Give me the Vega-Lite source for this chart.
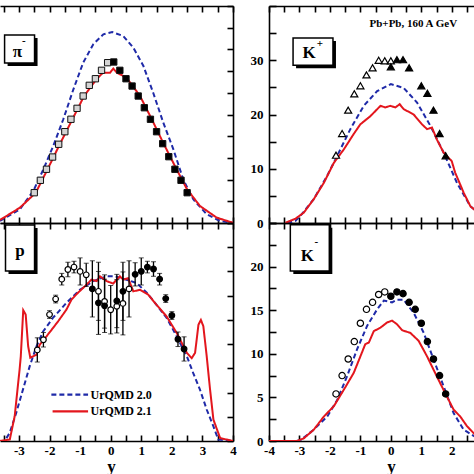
{
  "$schema": "https://vega.github.io/schema/vega-lite/v6.json",
  "padding": 0,
  "background": "white",
  "bounds": "flush",
  "columns": 2,
  "spacing": {"row": 0, "column": 36},
  "config": {
    "view": {"stroke": null},
    "axis": {
      "grid": false,
      "domainColor": "black",
      "domainWidth": 1.6,
      "tickColor": "black",
      "tickWidth": 1.6,
      "tickOpacity": 1,
      "ticks": true,
      "labelFont": "Liberation Serif",
      "labelFontWeight": "bold",
      "labelFontSize": 13,
      "labelColor": "black",
      "labelPadding": 9,
      "labelFlush": false,
      "labelOverlap": false,
      "titleFont": "Liberation Serif",
      "titleFontWeight": "bold",
      "titleFontSize": 17,
      "titleColor": "black"
    },
    "text": {"font": "Liberation Serif", "fontWeight": "bold", "color": "black"}
  },
  "resolve": {"scale": {"fill": "independent"}, "legend": {"color": "independent", "strokeDash": "independent", "fill": "independent"}},
  "datasets": {
    "curves": [
      {"p": "pim", "m": "UrQMD 2.0", "y": -3.62, "v": 2.3},
      {"p": "pim", "m": "UrQMD 2.0", "y": -2.97, "v": 15.8},
      {"p": "pim", "m": "UrQMD 2.0", "y": -2.53, "v": 36.9},
      {"p": "pim", "m": "UrQMD 2.0", "y": -2.2, "v": 61.9},
      {"p": "pim", "m": "UrQMD 2.0", "y": -1.88, "v": 88.7},
      {"p": "pim", "m": "UrQMD 2.0", "y": -1.55, "v": 119.5},
      {"p": "pim", "m": "UrQMD 2.0", "y": -1.22, "v": 154},
      {"p": "pim", "m": "UrQMD 2.0", "y": -0.9, "v": 184.7},
      {"p": "pim", "m": "UrQMD 2.0", "y": -0.57, "v": 205.9},
      {"p": "pim", "m": "UrQMD 2.0", "y": -0.24, "v": 217.4},
      {"p": "pim", "m": "UrQMD 2.0", "y": 0.05, "v": 220},
      {"p": "pim", "m": "UrQMD 2.0", "y": 0.41, "v": 215.4},
      {"p": "pim", "m": "UrQMD 2.0", "y": 0.74, "v": 202},
      {"p": "pim", "m": "UrQMD 2.0", "y": 1.07, "v": 180.9},
      {"p": "pim", "m": "UrQMD 2.0", "y": 1.39, "v": 150.1},
      {"p": "pim", "m": "UrQMD 2.0", "y": 1.72, "v": 115.6},
      {"p": "pim", "m": "UrQMD 2.0", "y": 2.05, "v": 84.9},
      {"p": "pim", "m": "UrQMD 2.0", "y": 2.37, "v": 50.3},
      {"p": "pim", "m": "UrQMD 2.0", "y": 2.7, "v": 27.3},
      {"p": "pim", "m": "UrQMD 2.0", "y": 3.14, "v": 10},
      {"p": "pim", "m": "UrQMD 2.0", "y": 3.58, "v": 2.3},
      {"p": "pim", "m": "UrQMD 2.0", "y": 4.0, "v": 0},
      {"p": "pim", "m": "UrQMD 2.1", "y": -3.62, "v": 3.5},
      {"p": "pim", "m": "UrQMD 2.1", "y": -2.97, "v": 17.6},
      {"p": "pim", "m": "UrQMD 2.1", "y": -2.45, "v": 34.9},
      {"p": "pim", "m": "UrQMD 2.1", "y": -2.06, "v": 62.2},
      {"p": "pim", "m": "UrQMD 2.1", "y": -1.66, "v": 91},
      {"p": "pim", "m": "UrQMD 2.1", "y": -1.28, "v": 117.5},
      {"p": "pim", "m": "UrQMD 2.1", "y": -0.87, "v": 146.3},
      {"p": "pim", "m": "UrQMD 2.1", "y": -0.46, "v": 165.9},
      {"p": "pim", "m": "UrQMD 2.1", "y": -0.25, "v": 173.2},
      {"p": "pim", "m": "UrQMD 2.1", "y": -0.02, "v": 173.2},
      {"p": "pim", "m": "UrQMD 2.1", "y": 0.085, "v": 177.8},
      {"p": "pim", "m": "UrQMD 2.1", "y": 0.2, "v": 173.2},
      {"p": "pim", "m": "UrQMD 2.1", "y": 0.52, "v": 167.4},
      {"p": "pim", "m": "UrQMD 2.1", "y": 0.96, "v": 146.3},
      {"p": "pim", "m": "UrQMD 2.1", "y": 1.34, "v": 119.8},
      {"p": "pim", "m": "UrQMD 2.1", "y": 1.72, "v": 92.2},
      {"p": "pim", "m": "UrQMD 2.1", "y": 2.1, "v": 65.7},
      {"p": "pim", "m": "UrQMD 2.1", "y": 2.49, "v": 39.2},
      {"p": "pim", "m": "UrQMD 2.1", "y": 2.92, "v": 19.6},
      {"p": "pim", "m": "UrQMD 2.1", "y": 3.47, "v": 6.1},
      {"p": "pim", "m": "UrQMD 2.1", "y": 4.0, "v": 0.3},

      {"p": "kp", "m": "UrQMD 2.0", "y": -3.4, "v": 0},
      {"p": "kp", "m": "UrQMD 2.0", "y": -3.13, "v": 0.4},
      {"p": "kp", "m": "UrQMD 2.0", "y": -2.97, "v": 1.3},
      {"p": "kp", "m": "UrQMD 2.0", "y": -2.53, "v": 4.4},
      {"p": "kp", "m": "UrQMD 2.0", "y": -2.09, "v": 8.7},
      {"p": "kp", "m": "UrQMD 2.0", "y": -1.76, "v": 12.4},
      {"p": "kp", "m": "UrQMD 2.0", "y": -1.33, "v": 17.3},
      {"p": "kp", "m": "UrQMD 2.0", "y": -0.89, "v": 21.6},
      {"p": "kp", "m": "UrQMD 2.0", "y": -0.45, "v": 24.3},
      {"p": "kp", "m": "UrQMD 2.0", "y": 0.0, "v": 25.6},
      {"p": "kp", "m": "UrQMD 2.0", "y": 0.42, "v": 24.9},
      {"p": "kp", "m": "UrQMD 2.0", "y": 0.86, "v": 22.2},
      {"p": "kp", "m": "UrQMD 2.0", "y": 1.3, "v": 17.9},
      {"p": "kp", "m": "UrQMD 2.0", "y": 1.73, "v": 13.0},
      {"p": "kp", "m": "UrQMD 2.0", "y": 2.17, "v": 7.4},
      {"p": "kp", "m": "UrQMD 2.0", "y": 2.61, "v": 3.1},
      {"p": "kp", "m": "UrQMD 2.0", "y": 2.8, "v": 2.2},
      {"p": "kp", "m": "UrQMD 2.1", "y": -3.46, "v": 0.05},
      {"p": "kp", "m": "UrQMD 2.1", "y": -3.13, "v": 0.8},
      {"p": "kp", "m": "UrQMD 2.1", "y": -2.86, "v": 1.9},
      {"p": "kp", "m": "UrQMD 2.1", "y": -2.53, "v": 4.4},
      {"p": "kp", "m": "UrQMD 2.1", "y": -2.2, "v": 7.4},
      {"p": "kp", "m": "UrQMD 2.1", "y": -1.87, "v": 11.1},
      {"p": "kp", "m": "UrQMD 2.1", "y": -1.54, "v": 13.6},
      {"p": "kp", "m": "UrQMD 2.1", "y": -1.22, "v": 16.4},
      {"p": "kp", "m": "UrQMD 2.1", "y": -1.0, "v": 18.2},
      {"p": "kp", "m": "UrQMD 2.1", "y": -0.67, "v": 19.7},
      {"p": "kp", "m": "UrQMD 2.1", "y": -0.34, "v": 21.6},
      {"p": "kp", "m": "UrQMD 2.1", "y": -0.18, "v": 21.3},
      {"p": "kp", "m": "UrQMD 2.1", "y": -0.02, "v": 21.6},
      {"p": "kp", "m": "UrQMD 2.1", "y": 0.15, "v": 21.3},
      {"p": "kp", "m": "UrQMD 2.1", "y": 0.29, "v": 21.9},
      {"p": "kp", "m": "UrQMD 2.1", "y": 0.42, "v": 21.0},
      {"p": "kp", "m": "UrQMD 2.1", "y": 0.75, "v": 20.0},
      {"p": "kp", "m": "UrQMD 2.1", "y": 1.02, "v": 18.2},
      {"p": "kp", "m": "UrQMD 2.1", "y": 1.19, "v": 17.3},
      {"p": "kp", "m": "UrQMD 2.1", "y": 1.35, "v": 17.6},
      {"p": "kp", "m": "UrQMD 2.1", "y": 1.51, "v": 15.4},
      {"p": "kp", "m": "UrQMD 2.1", "y": 1.73, "v": 13.0},
      {"p": "kp", "m": "UrQMD 2.1", "y": 2.0, "v": 11.4},
      {"p": "kp", "m": "UrQMD 2.1", "y": 2.11, "v": 9.3},
      {"p": "kp", "m": "UrQMD 2.1", "y": 2.39, "v": 5.6},
      {"p": "kp", "m": "UrQMD 2.1", "y": 2.61, "v": 3.1},
      {"p": "kp", "m": "UrQMD 2.1", "y": 2.8, "v": 2.2},

      {"p": "pr", "m": "UrQMD 2.0", "y": -3.62, "v": 0},
      {"p": "pr", "m": "UrQMD 2.0", "y": -3.47, "v": 0},
      {"p": "pr", "m": "UrQMD 2.0", "y": -3.3, "v": 1.7},
      {"p": "pr", "m": "UrQMD 2.0", "y": -3.09, "v": 5.8},
      {"p": "pr", "m": "UrQMD 2.0", "y": -2.87, "v": 10.6},
      {"p": "pr", "m": "UrQMD 2.0", "y": -2.65, "v": 15.4},
      {"p": "pr", "m": "UrQMD 2.0", "y": -2.43, "v": 19.5},
      {"p": "pr", "m": "UrQMD 2.0", "y": -2.21, "v": 22.6},
      {"p": "pr", "m": "UrQMD 2.0", "y": -1.89, "v": 25.4},
      {"p": "pr", "m": "UrQMD 2.0", "y": -1.45, "v": 28.5},
      {"p": "pr", "m": "UrQMD 2.0", "y": -1.01, "v": 31.2},
      {"p": "pr", "m": "UrQMD 2.0", "y": -0.57, "v": 33.0},
      {"p": "pr", "m": "UrQMD 2.0", "y": -0.13, "v": 34.0},
      {"p": "pr", "m": "UrQMD 2.0", "y": 0.14, "v": 34.0},
      {"p": "pr", "m": "UrQMD 2.0", "y": 0.52, "v": 33.3},
      {"p": "pr", "m": "UrQMD 2.0", "y": 0.85, "v": 32.6},
      {"p": "pr", "m": "UrQMD 2.0", "y": 1.18, "v": 30.6},
      {"p": "pr", "m": "UrQMD 2.0", "y": 1.5, "v": 28.1},
      {"p": "pr", "m": "UrQMD 2.0", "y": 1.83, "v": 25.4},
      {"p": "pr", "m": "UrQMD 2.0", "y": 2.16, "v": 21.6},
      {"p": "pr", "m": "UrQMD 2.0", "y": 2.49, "v": 17.5},
      {"p": "pr", "m": "UrQMD 2.0", "y": 2.7, "v": 14.0},
      {"p": "pr", "m": "UrQMD 2.0", "y": 2.92, "v": 10.6},
      {"p": "pr", "m": "UrQMD 2.0", "y": 3.14, "v": 6.5},
      {"p": "pr", "m": "UrQMD 2.0", "y": 3.36, "v": 3.0},
      {"p": "pr", "m": "UrQMD 2.0", "y": 3.52, "v": 0.3},
      {"p": "pr", "m": "UrQMD 2.0", "y": 4.0, "v": 0},
      {"p": "pr", "m": "UrQMD 2.1", "y": -3.63, "v": 0},
      {"p": "pr", "m": "UrQMD 2.1", "y": -3.3, "v": 0.3},
      {"p": "pr", "m": "UrQMD 2.1", "y": -3.14, "v": 5.1},
      {"p": "pr", "m": "UrQMD 2.1", "y": -2.98, "v": 14.7},
      {"p": "pr", "m": "UrQMD 2.1", "y": -2.94, "v": 17.5},
      {"p": "pr", "m": "UrQMD 2.1", "y": -2.86, "v": 27.0},
      {"p": "pr", "m": "UrQMD 2.1", "y": -2.78, "v": 26.1},
      {"p": "pr", "m": "UrQMD 2.1", "y": -2.7, "v": 19.6},
      {"p": "pr", "m": "UrQMD 2.1", "y": -2.63, "v": 17.2},
      {"p": "pr", "m": "UrQMD 2.1", "y": -2.43, "v": 17.8},
      {"p": "pr", "m": "UrQMD 2.1", "y": -2.32, "v": 19.9},
      {"p": "pr", "m": "UrQMD 2.1", "y": -2.1, "v": 21.6},
      {"p": "pr", "m": "UrQMD 2.1", "y": -1.89, "v": 23.3},
      {"p": "pr", "m": "UrQMD 2.1", "y": -1.72, "v": 24.7},
      {"p": "pr", "m": "UrQMD 2.1", "y": -1.45, "v": 27.1},
      {"p": "pr", "m": "UrQMD 2.1", "y": -1.28, "v": 29.2},
      {"p": "pr", "m": "UrQMD 2.1", "y": -1.07, "v": 30.6},
      {"p": "pr", "m": "UrQMD 2.1", "y": -0.85, "v": 31.9},
      {"p": "pr", "m": "UrQMD 2.1", "y": -0.63, "v": 33.3},
      {"p": "pr", "m": "UrQMD 2.1", "y": -0.46, "v": 33.0},
      {"p": "pr", "m": "UrQMD 2.1", "y": -0.35, "v": 34.0},
      {"p": "pr", "m": "UrQMD 2.1", "y": -0.13, "v": 33.0},
      {"p": "pr", "m": "UrQMD 2.1", "y": 0.08, "v": 32.5},
      {"p": "pr", "m": "UrQMD 2.1", "y": 0.3, "v": 34.0},
      {"p": "pr", "m": "UrQMD 2.1", "y": 0.41, "v": 33.3},
      {"p": "pr", "m": "UrQMD 2.1", "y": 0.57, "v": 33.6},
      {"p": "pr", "m": "UrQMD 2.1", "y": 0.74, "v": 30.9},
      {"p": "pr", "m": "UrQMD 2.1", "y": 0.96, "v": 31.2},
      {"p": "pr", "m": "UrQMD 2.1", "y": 1.23, "v": 30.2},
      {"p": "pr", "m": "UrQMD 2.1", "y": 1.5, "v": 28.1},
      {"p": "pr", "m": "UrQMD 2.1", "y": 1.83, "v": 25.7},
      {"p": "pr", "m": "UrQMD 2.1", "y": 2.16, "v": 22.3},
      {"p": "pr", "m": "UrQMD 2.1", "y": 2.49, "v": 18.2},
      {"p": "pr", "m": "UrQMD 2.1", "y": 2.65, "v": 17.1},
      {"p": "pr", "m": "UrQMD 2.1", "y": 2.76, "v": 18.2},
      {"p": "pr", "m": "UrQMD 2.1", "y": 2.87, "v": 24.0},
      {"p": "pr", "m": "UrQMD 2.1", "y": 2.95, "v": 25.0},
      {"p": "pr", "m": "UrQMD 2.1", "y": 3.03, "v": 23.7},
      {"p": "pr", "m": "UrQMD 2.1", "y": 3.14, "v": 17.5},
      {"p": "pr", "m": "UrQMD 2.1", "y": 3.25, "v": 10.6},
      {"p": "pr", "m": "UrQMD 2.1", "y": 3.36, "v": 4.4},
      {"p": "pr", "m": "UrQMD 2.1", "y": 3.58, "v": 0.6},
      {"p": "pr", "m": "UrQMD 2.1", "y": 4.0, "v": 0},

      {"p": "km", "m": "UrQMD 2.0", "y": -3.1, "v": 0},
      {"p": "km", "m": "UrQMD 2.0", "y": -2.96, "v": 0.1},
      {"p": "km", "m": "UrQMD 2.0", "y": -2.53, "v": 1.3},
      {"p": "km", "m": "UrQMD 2.0", "y": -2.09, "v": 2.8},
      {"p": "km", "m": "UrQMD 2.0", "y": -1.76, "v": 4.7},
      {"p": "km", "m": "UrQMD 2.0", "y": -1.44, "v": 7.4},
      {"p": "km", "m": "UrQMD 2.0", "y": -1.11, "v": 10.5},
      {"p": "km", "m": "UrQMD 2.0", "y": -0.78, "v": 13.2},
      {"p": "km", "m": "UrQMD 2.0", "y": -0.45, "v": 15.1},
      {"p": "km", "m": "UrQMD 2.0", "y": -0.23, "v": 16.1},
      {"p": "km", "m": "UrQMD 2.0", "y": 0.04, "v": 15.9},
      {"p": "km", "m": "UrQMD 2.0", "y": 0.2, "v": 16.2},
      {"p": "km", "m": "UrQMD 2.0", "y": 0.42, "v": 16.2},
      {"p": "km", "m": "UrQMD 2.0", "y": 0.75, "v": 14.7},
      {"p": "km", "m": "UrQMD 2.0", "y": 1.08, "v": 12.4},
      {"p": "km", "m": "UrQMD 2.0", "y": 1.41, "v": 9.3},
      {"p": "km", "m": "UrQMD 2.0", "y": 1.73, "v": 6.3},
      {"p": "km", "m": "UrQMD 2.0", "y": 2.06, "v": 3.2},
      {"p": "km", "m": "UrQMD 2.0", "y": 2.39, "v": 1.3},
      {"p": "km", "m": "UrQMD 2.0", "y": 2.8, "v": 0.4},
      {"p": "km", "m": "UrQMD 2.1", "y": -4.0, "v": 0},
      {"p": "km", "m": "UrQMD 2.1", "y": -3.08, "v": 0},
      {"p": "km", "m": "UrQMD 2.1", "y": -2.86, "v": 0.3},
      {"p": "km", "m": "UrQMD 2.1", "y": -2.53, "v": 1.3},
      {"p": "km", "m": "UrQMD 2.1", "y": -2.2, "v": 2.8},
      {"p": "km", "m": "UrQMD 2.1", "y": -1.87, "v": 4.0},
      {"p": "km", "m": "UrQMD 2.1", "y": -1.54, "v": 5.9},
      {"p": "km", "m": "UrQMD 2.1", "y": -1.22, "v": 7.8},
      {"p": "km", "m": "UrQMD 2.1", "y": -1.0, "v": 9.7},
      {"p": "km", "m": "UrQMD 2.1", "y": -0.84, "v": 11.1},
      {"p": "km", "m": "UrQMD 2.1", "y": -0.72, "v": 11.3},
      {"p": "km", "m": "UrQMD 2.1", "y": -0.56, "v": 12.6},
      {"p": "km", "m": "UrQMD 2.1", "y": -0.34, "v": 13.0},
      {"p": "km", "m": "UrQMD 2.1", "y": -0.12, "v": 13.6},
      {"p": "km", "m": "UrQMD 2.1", "y": 0.04, "v": 13.8},
      {"p": "km", "m": "UrQMD 2.1", "y": 0.2, "v": 13.4},
      {"p": "km", "m": "UrQMD 2.1", "y": 0.37, "v": 12.7},
      {"p": "km", "m": "UrQMD 2.1", "y": 0.64, "v": 12.4},
      {"p": "km", "m": "UrQMD 2.1", "y": 0.91, "v": 11.5},
      {"p": "km", "m": "UrQMD 2.1", "y": 1.19, "v": 9.7},
      {"p": "km", "m": "UrQMD 2.1", "y": 1.51, "v": 7.4},
      {"p": "km", "m": "UrQMD 2.1", "y": 1.84, "v": 5.1},
      {"p": "km", "m": "UrQMD 2.1", "y": 2.06, "v": 3.6},
      {"p": "km", "m": "UrQMD 2.1", "y": 2.28, "v": 2.8},
      {"p": "km", "m": "UrQMD 2.1", "y": 2.5, "v": 1.7},
      {"p": "km", "m": "UrQMD 2.1", "y": 2.8, "v": 0.6}
    ],
    "pts": [
      {"p": "pim", "s": "open", "y": -2.5, "v": 34.9, "e": 0},
      {"p": "pim", "s": "open", "y": -2.3, "v": 49.2, "e": 0},
      {"p": "pim", "s": "open", "y": -2.1, "v": 61.9, "e": 0},
      {"p": "pim", "s": "open", "y": -1.9, "v": 76.0, "e": 0},
      {"p": "pim", "s": "open", "y": -1.7, "v": 90.7, "e": 0},
      {"p": "pim", "s": "open", "y": -1.5, "v": 105.2, "e": 0},
      {"p": "pim", "s": "open", "y": -1.3, "v": 119.5, "e": 0},
      {"p": "pim", "s": "open", "y": -1.1, "v": 132.1, "e": 0},
      {"p": "pim", "s": "open", "y": -0.9, "v": 146.3, "e": 0},
      {"p": "pim", "s": "open", "y": -0.7, "v": 158.6, "e": 0},
      {"p": "pim", "s": "open", "y": -0.5, "v": 166.2, "e": 0},
      {"p": "pim", "s": "open", "y": -0.3, "v": 175.9, "e": 0},
      {"p": "pim", "s": "open", "y": -0.1, "v": 184.7, "e": 0},
      {"p": "pim", "s": "closed", "y": 0.1, "v": 185.5, "e": 0},
      {"p": "pim", "s": "closed", "y": 0.3, "v": 175.9, "e": 0},
      {"p": "pim", "s": "closed", "y": 0.5, "v": 166.2, "e": 0},
      {"p": "pim", "s": "closed", "y": 0.7, "v": 157.8, "e": 0},
      {"p": "pim", "s": "closed", "y": 0.9, "v": 146.3, "e": 0},
      {"p": "pim", "s": "closed", "y": 1.1, "v": 132.8, "e": 0},
      {"p": "pim", "s": "closed", "y": 1.3, "v": 119.5, "e": 0},
      {"p": "pim", "s": "closed", "y": 1.5, "v": 105.2, "e": 0},
      {"p": "pim", "s": "closed", "y": 1.7, "v": 91.4, "e": 0},
      {"p": "pim", "s": "closed", "y": 1.9, "v": 76.4, "e": 0},
      {"p": "pim", "s": "closed", "y": 2.1, "v": 61.9, "e": 0},
      {"p": "pim", "s": "closed", "y": 2.3, "v": 49.2, "e": 0},
      {"p": "pim", "s": "closed", "y": 2.5, "v": 34.9, "e": 0},

      {"p": "kp", "s": "open", "y": -1.8, "v": 12.5, "e": 0},
      {"p": "kp", "s": "open", "y": -1.6, "v": 16.5, "e": 0},
      {"p": "kp", "s": "open", "y": -1.4, "v": 20.8, "e": 0},
      {"p": "kp", "s": "open", "y": -1.2, "v": 23.8, "e": 0},
      {"p": "kp", "s": "open", "y": -1.0, "v": 25.3, "e": 0},
      {"p": "kp", "s": "open", "y": -0.8, "v": 27.3, "e": 0},
      {"p": "kp", "s": "open", "y": -0.6, "v": 28.6, "e": 0},
      {"p": "kp", "s": "open", "y": -0.4, "v": 30.0, "e": 0},
      {"p": "kp", "s": "open", "y": -0.2, "v": 29.9, "e": 0},
      {"p": "kp", "s": "open", "y": 0.0, "v": 29.9, "e": 0},
      {"p": "kp", "s": "closed", "y": 0.0, "v": 28.8, "e": 0},
      {"p": "kp", "s": "closed", "y": 0.2, "v": 30.1, "e": 0},
      {"p": "kp", "s": "closed", "y": 0.4, "v": 30.1, "e": 0},
      {"p": "kp", "s": "closed", "y": 0.6, "v": 28.6, "e": 0},
      {"p": "kp", "s": "closed", "y": 1.0, "v": 25.3, "e": 0},
      {"p": "kp", "s": "closed", "y": 1.2, "v": 23.9, "e": 0},
      {"p": "kp", "s": "closed", "y": 1.4, "v": 20.8, "e": 0},
      {"p": "kp", "s": "closed", "y": 1.6, "v": 16.5, "e": 0},
      {"p": "kp", "s": "closed", "y": 1.8, "v": 12.4, "e": 0},

      {"p": "pr", "s": "open", "y": -2.4, "v": 18.8, "e": 2.5},
      {"p": "pr", "s": "open", "y": -2.2, "v": 20.9, "e": 1.5},
      {"p": "pr", "s": "open", "y": -2.0, "v": 26.1, "e": 0.8},
      {"p": "pr", "s": "open", "y": -1.8, "v": 29.3, "e": 0.8},
      {"p": "pr", "s": "open", "y": -1.6, "v": 33.4, "e": 1.2},
      {"p": "pr", "s": "open", "y": -1.4, "v": 35.4, "e": 1.5},
      {"p": "pr", "s": "open", "y": -1.2, "v": 35.9, "e": 1.2},
      {"p": "pr", "s": "open", "y": -1.0, "v": 35.0, "e": 2.8},
      {"p": "pr", "s": "open", "y": -0.8, "v": 34.3, "e": 2.4},
      {"p": "pr", "s": "open", "y": -0.4, "v": 30.9, "e": 6.0},
      {"p": "pr", "s": "open", "y": -0.2, "v": 28.8, "e": 5.5},
      {"p": "pr", "s": "open", "y": 0.0, "v": 27.1, "e": 5.0},
      {"p": "pr", "s": "open", "y": 0.2, "v": 27.8, "e": 5.5},
      {"p": "pr", "s": "open", "y": 0.4, "v": 28.4, "e": 6.5},
      {"p": "pr", "s": "open", "y": 0.6, "v": 31.4, "e": 5.8},
      {"p": "pr", "s": "closed", "y": -0.6, "v": 31.4, "e": 5.8},
      {"p": "pr", "s": "closed", "y": -0.4, "v": 28.5, "e": 6.5},
      {"p": "pr", "s": "closed", "y": -0.2, "v": 27.9, "e": 5.5},
      {"p": "pr", "s": "closed", "y": 0.2, "v": 28.9, "e": 5.5},
      {"p": "pr", "s": "closed", "y": 0.4, "v": 30.9, "e": 6.0},
      {"p": "pr", "s": "closed", "y": 0.8, "v": 34.4, "e": 2.4},
      {"p": "pr", "s": "closed", "y": 1.0, "v": 35.0, "e": 2.8},
      {"p": "pr", "s": "closed", "y": 1.2, "v": 35.9, "e": 1.2},
      {"p": "pr", "s": "closed", "y": 1.4, "v": 35.5, "e": 1.5},
      {"p": "pr", "s": "closed", "y": 1.6, "v": 33.4, "e": 1.2},
      {"p": "pr", "s": "closed", "y": 1.8, "v": 29.4, "e": 0.8},
      {"p": "pr", "s": "closed", "y": 2.0, "v": 25.9, "e": 0.8},
      {"p": "pr", "s": "closed", "y": 2.2, "v": 21.0, "e": 1.5},
      {"p": "pr", "s": "closed", "y": 2.4, "v": 19.0, "e": 2.5},

      {"p": "km", "s": "open", "y": -1.8, "v": 5.4, "e": 0},
      {"p": "km", "s": "open", "y": -1.6, "v": 7.5, "e": 0},
      {"p": "km", "s": "open", "y": -1.4, "v": 9.4, "e": 0},
      {"p": "km", "s": "open", "y": -1.2, "v": 11.4, "e": 0},
      {"p": "km", "s": "open", "y": -1.0, "v": 13.5, "e": 0},
      {"p": "km", "s": "open", "y": -0.8, "v": 15.1, "e": 0},
      {"p": "km", "s": "open", "y": -0.6, "v": 15.9, "e": 0},
      {"p": "km", "s": "open", "y": -0.4, "v": 16.8, "e": 0},
      {"p": "km", "s": "open", "y": -0.2, "v": 17.1, "e": 0},
      {"p": "km", "s": "closed", "y": 0.0, "v": 16.6, "e": 0},
      {"p": "km", "s": "closed", "y": 0.2, "v": 17.1, "e": 0},
      {"p": "km", "s": "closed", "y": 0.4, "v": 16.9, "e": 0},
      {"p": "km", "s": "closed", "y": 0.6, "v": 15.9, "e": 0},
      {"p": "km", "s": "closed", "y": 0.8, "v": 15.1, "e": 0},
      {"p": "km", "s": "closed", "y": 1.0, "v": 13.5, "e": 0},
      {"p": "km", "s": "closed", "y": 1.2, "v": 11.4, "e": 0},
      {"p": "km", "s": "closed", "y": 1.4, "v": 9.4, "e": 0},
      {"p": "km", "s": "closed", "y": 1.6, "v": 7.5, "e": 0},
      {"p": "km", "s": "closed", "y": 1.8, "v": 5.4, "e": 0}
    ]
  },
  "concat": [
    {
      "width": 233,
      "height": 217,
      "resolve": {"axis": {"x": "independent", "y": "independent"}},
      "layer": [
        {
          "data": {"name": "curves"},
          "transform": [{"filter": "datum.p === 'pim'"}],
          "mark": {"type": "line", "clip": true, "strokeWidth": 2},
          "encoding": {
            "x": {"field": "y", "type": "quantitative", "scale": {"domain": [-3.62, 4], "nice": false, "zero": false},
              "axis": {"orient": "bottom", "values": [-3.5,-3,-2.5,-2,-1.5,-1,-0.5,0,0.5,1,1.5,2,2.5,3,3.5,4], "labels": false, "title": null, "tickSize": -6}},
            "y": {"field": "v", "type": "quantitative", "scale": {"domain": [0, 250], "nice": false},
              "axis": {"orient": "right", "values": [0,25,50,75,100,125,150,175,200,225,250], "labels": false, "title": null, "tickSize": -6}},
            "color": {"field": "m", "type": "nominal", "scale": {"domain": ["UrQMD 2.0", "UrQMD 2.1"], "range": ["#1f2aa8", "#e3161d"]}, "legend": null},
            "strokeDash": {"field": "m", "type": "nominal", "scale": {"domain": ["UrQMD 2.0", "UrQMD 2.1"], "range": [[5, 3], [1, 0]]}, "legend": null}
          }
        },
        {
          "data": {"name": "pts"},
          "transform": [{"filter": "datum.p === 'pim'"}],
          "mark": {"type": "point", "shape": "square", "size": 40, "filled": true, "stroke": "#111", "strokeWidth": 1, "opacity": 1},
          "encoding": {
            "x": {"field": "y", "type": "quantitative",
              "axis": {"orient": "top", "values": [-3.5,-3,-2.5,-2,-1.5,-1,-0.5,0,0.5,1,1.5,2,2.5,3,3.5,4], "labels": false, "title": null, "tickSize": -6}},
            "y": {"field": "v", "type": "quantitative", "axis": null},
            "fill": {"field": "s", "type": "nominal", "scale": {"domain": ["open", "closed"], "range": ["#d4d4d4", "#000000"]}, "legend": null}
          }
        },
        {
          "data": {"values": [{}]},
          "mark": {"type": "rect", "fill": "black", "xOffset": 3, "x2Offset": 3, "yOffset": 3, "y2Offset": 3},
          "encoding": {
            "x": {"datum": -3.47, "type": "quantitative", "axis": null}, "x2": {"datum": -2.49},
            "y": {"datum": 216.6, "type": "quantitative", "axis": null}, "y2": {"datum": 184.3}
          }
        },
        {
          "data": {"values": [{}]},
          "mark": {"type": "rect", "fill": "white", "stroke": "black", "strokeWidth": 1.5},
          "encoding": {
            "x": {"datum": -3.47, "type": "quantitative", "axis": null}, "x2": {"datum": -2.49},
            "y": {"datum": 216.6, "type": "quantitative", "axis": null}, "y2": {"datum": 184.3}
          }
        },
        {
          "data": {"values": [{}]},
          "mark": {"type": "text", "text": "π", "fontSize": 17, "align": "center", "baseline": "middle"},
          "encoding": {
            "x": {"datum": -3.05, "type": "quantitative", "axis": null},
            "y": {"datum": 197, "type": "quantitative", "axis": null}
          }
        },
        {
          "data": {"values": [{}]},
          "mark": {"type": "text", "text": "-", "fontSize": 11, "align": "center", "baseline": "middle"},
          "encoding": {
            "x": {"datum": -2.84, "type": "quantitative", "axis": null},
            "y": {"datum": 210, "type": "quantitative", "axis": null}
          }
        }
      ]
    },
    {
      "width": 205,
      "height": 217,
      "resolve": {"axis": {"x": "independent", "y": "independent"}},
      "layer": [
        {
          "data": {"name": "curves"},
          "transform": [{"filter": "datum.p === 'kp'"}],
          "mark": {"type": "line", "clip": true, "strokeWidth": 2},
          "encoding": {
            "x": {"field": "y", "type": "quantitative", "scale": {"domain": [-4, 2.73], "nice": false, "zero": false},
              "axis": {"orient": "bottom", "values": [-4,-3.5,-3,-2.5,-2,-1.5,-1,-0.5,0,0.5,1,1.5,2,2.5], "labels": false, "title": null, "tickSize": -6}},
            "y": {"field": "v", "type": "quantitative", "scale": {"domain": [0, 40], "nice": false},
              "axis": {"orient": "left", "values": [0,5,10,15,20,25,30,35,40], "title": null, "tickSize": -7, "labelPadding": 13,
                "labelExpr": "datum.value % 10 === 0 && datum.value < 40 ? '' + datum.value : ''"}},
            "color": {"field": "m", "type": "nominal", "scale": {"domain": ["UrQMD 2.0", "UrQMD 2.1"], "range": ["#1f2aa8", "#e3161d"]}, "legend": null},
            "strokeDash": {"field": "m", "type": "nominal", "scale": {"domain": ["UrQMD 2.0", "UrQMD 2.1"], "range": [[5, 3], [1, 0]]}, "legend": null}
          }
        },
        {
          "data": {"name": "pts"},
          "transform": [{"filter": "datum.p === 'kp'"}],
          "mark": {"type": "point", "shape": "triangle-up", "size": 50, "filled": true, "stroke": "black", "strokeWidth": 1.2, "opacity": 1},
          "encoding": {
            "x": {"field": "y", "type": "quantitative",
              "axis": {"orient": "top", "values": [-4,-3.5,-3,-2.5,-2,-1.5,-1,-0.5,0,0.5,1,1.5,2,2.5], "labels": false, "title": null, "tickSize": -6}},
            "y": {"field": "v", "type": "quantitative", "axis": null},
            "fill": {"field": "s", "type": "nominal", "scale": {"domain": ["open", "closed"], "range": ["#ffffff", "#000000"]}, "legend": null}
          }
        },
        {
          "data": {"values": [{}]},
          "mark": {"type": "text", "text": "Pb+Pb, 160 A GeV", "fontSize": 11, "align": "left", "baseline": "middle", "clip": true},
          "encoding": {
            "x": {"datum": -0.7, "type": "quantitative", "axis": null},
            "y": {"datum": 36.7, "type": "quantitative", "axis": null}
          }
        },
        {
          "data": {"values": [{}]},
          "mark": {"type": "rect", "fill": "black", "xOffset": 3, "x2Offset": 3, "yOffset": 3, "y2Offset": 3},
          "encoding": {
            "x": {"datum": -3.21, "type": "quantitative", "axis": null}, "x2": {"datum": -1.9},
            "y": {"datum": 34.1, "type": "quantitative", "axis": null}, "y2": {"datum": 29.1}
          }
        },
        {
          "data": {"values": [{}]},
          "mark": {"type": "rect", "fill": "white", "stroke": "black", "strokeWidth": 1.5},
          "encoding": {
            "x": {"datum": -3.21, "type": "quantitative", "axis": null}, "x2": {"datum": -1.9},
            "y": {"datum": 34.1, "type": "quantitative", "axis": null}, "y2": {"datum": 29.1}
          }
        },
        {
          "data": {"values": [{}]},
          "mark": {"type": "text", "text": "K", "fontSize": 17, "align": "center", "baseline": "middle"},
          "encoding": {
            "x": {"datum": -2.68, "type": "quantitative", "axis": null},
            "y": {"datum": 31.3, "type": "quantitative", "axis": null}
          }
        },
        {
          "data": {"values": [{}]},
          "mark": {"type": "text", "text": "+", "fontSize": 11, "align": "center", "baseline": "middle"},
          "encoding": {
            "x": {"datum": -2.33, "type": "quantitative", "axis": null},
            "y": {"datum": 33.0, "type": "quantitative", "axis": null}
          }
        }
      ]
    },
    {
      "width": 233,
      "height": 218,
      "resolve": {"axis": {"x": "independent", "y": "independent"}},
      "layer": [
        {
          "data": {"name": "curves"},
          "transform": [{"filter": "datum.p === 'pr'"}],
          "mark": {"type": "line", "clip": true, "strokeWidth": 2},
          "encoding": {
            "x": {"field": "y", "type": "quantitative", "scale": {"domain": [-3.62, 4], "nice": false, "zero": false},
              "axis": {"orient": "bottom", "values": [-3.5,-3,-2.5,-2,-1.5,-1,-0.5,0,0.5,1,1.5,2,2.5,3,3.5,4], "title": "y", "titleX": 111, "titlePadding": 1, "tickSize": -6, "labelPadding": 9,
                "labelExpr": "abs(datum.value % 1) < 0.01 ? '' + datum.value : ''"}},
            "y": {"field": "v", "type": "quantitative", "scale": {"domain": [0, 45], "nice": false},
              "axis": {"orient": "right", "values": [0,5,10,15,20,25,30,35,40,45], "labels": false, "title": null, "tickSize": -6}},
            "color": {"field": "m", "type": "nominal", "scale": {"domain": ["UrQMD 2.0", "UrQMD 2.1"], "range": ["#1f2aa8", "#e3161d"]}, "legend": null},
            "strokeDash": {"field": "m", "type": "nominal", "scale": {"domain": ["UrQMD 2.0", "UrQMD 2.1"], "range": [[5, 3], [1, 0]]}, "legend": null}
          }
        },
        {
          "data": {"name": "pts"},
          "transform": [{"filter": "datum.p === 'pr'"}],
          "mark": {"type": "errorbar", "ticks": {"size": 5, "color": "black"}, "rule": {"color": "black", "strokeWidth": 1.3}},
          "encoding": {
            "x": {"field": "y", "type": "quantitative",
              "axis": {"orient": "top", "values": [-3.5,-3,-2.5,-2,-1.5,-1,-0.5,0,0.5,1,1.5,2,2.5,3,3.5,4], "labels": false, "title": null, "tickSize": -6}},
            "y": {"field": "v", "type": "quantitative", "axis": null},
            "yError": {"field": "e"}
          }
        },
        {
          "data": {"name": "pts"},
          "transform": [{"filter": "datum.p === 'pr'"}],
          "mark": {"type": "point", "shape": "circle", "size": 32, "filled": true, "stroke": "black", "strokeWidth": 1.2, "opacity": 1},
          "encoding": {
            "x": {"field": "y", "type": "quantitative", "axis": null},
            "y": {"field": "v", "type": "quantitative", "axis": null},
            "fill": {"field": "s", "type": "nominal", "scale": {"domain": ["open", "closed"], "range": ["#ffffff", "#000000"]}, "legend": null}
          }
        },
        {
          "data": {"values": [{}]},
          "mark": {"type": "rule", "stroke": "#1f2aa8", "strokeWidth": 2.2, "strokeDash": [5, 3]},
          "encoding": {
            "x": {"datum": -1.94, "type": "quantitative", "axis": null}, "x2": {"datum": -0.74},
            "y": {"datum": 9.56, "type": "quantitative", "axis": null}
          }
        },
        {
          "data": {"values": [{}]},
          "mark": {"type": "rule", "stroke": "#e3161d", "strokeWidth": 2.2},
          "encoding": {
            "x": {"datum": -1.9, "type": "quantitative", "axis": null}, "x2": {"datum": -0.74},
            "y": {"datum": 6.13, "type": "quantitative", "axis": null}
          }
        },
        {
          "data": {"values": [{}]},
          "mark": {"type": "text", "text": "UrQMD 2.0", "fontSize": 12, "align": "left", "baseline": "middle"},
          "encoding": {
            "x": {"datum": -0.66, "type": "quantitative", "axis": null},
            "y": {"datum": 9.56, "type": "quantitative", "axis": null}
          }
        },
        {
          "data": {"values": [{}]},
          "mark": {"type": "text", "text": "UrQMD 2.1", "fontSize": 12, "align": "left", "baseline": "middle"},
          "encoding": {
            "x": {"datum": -0.66, "type": "quantitative", "axis": null},
            "y": {"datum": 6.13, "type": "quantitative", "axis": null}
          }
        },
        {
          "data": {"values": [{}]},
          "mark": {"type": "rect", "fill": "black", "xOffset": 3, "x2Offset": 3, "yOffset": 3, "y2Offset": 3},
          "encoding": {
            "x": {"datum": -3.44, "type": "quantitative", "axis": null}, "x2": {"datum": -2.49},
            "y": {"datum": 44.6, "type": "quantitative", "axis": null}, "y2": {"datum": 35.1}
          }
        },
        {
          "data": {"values": [{}]},
          "mark": {"type": "rect", "fill": "white", "stroke": "black", "strokeWidth": 1.5},
          "encoding": {
            "x": {"datum": -3.44, "type": "quantitative", "axis": null}, "x2": {"datum": -2.49},
            "y": {"datum": 44.6, "type": "quantitative", "axis": null}, "y2": {"datum": 35.1}
          }
        },
        {
          "data": {"values": [{}]},
          "mark": {"type": "text", "text": "p", "fontSize": 17, "align": "center", "baseline": "middle"},
          "encoding": {
            "x": {"datum": -2.97, "type": "quantitative", "axis": null},
            "y": {"datum": 39.3, "type": "quantitative", "axis": null}
          }
        }
      ]
    },
    {
      "width": 205,
      "height": 218,
      "resolve": {"axis": {"x": "independent", "y": "independent"}},
      "layer": [
        {
          "data": {"name": "curves"},
          "transform": [{"filter": "datum.p === 'km'"}],
          "mark": {"type": "line", "clip": true, "strokeWidth": 2},
          "encoding": {
            "x": {"field": "y", "type": "quantitative", "scale": {"domain": [-4, 2.73], "nice": false, "zero": false},
              "axis": {"orient": "bottom", "values": [-4,-3.5,-3,-2.5,-2,-1.5,-1,-0.5,0,0.5,1,1.5,2,2.5], "title": "y", "titleX": 122, "titlePadding": 1, "tickSize": -6, "labelPadding": 9,
                "labelExpr": "abs(datum.value % 1) < 0.01 ? '' + datum.value : ''"}},
            "y": {"field": "v", "type": "quantitative", "scale": {"domain": [0, 25], "nice": false},
              "axis": {"orient": "left", "values": [0,2.5,5,7.5,10,12.5,15,17.5,20,22.5,25], "title": null, "tickSize": -7, "labelPadding": 13,
                "labelExpr": "datum.value % 5 === 0 && datum.value < 25 ? '' + datum.value : ''"}},
            "color": {"field": "m", "type": "nominal", "scale": {"domain": ["UrQMD 2.0", "UrQMD 2.1"], "range": ["#1f2aa8", "#e3161d"]}, "legend": null},
            "strokeDash": {"field": "m", "type": "nominal", "scale": {"domain": ["UrQMD 2.0", "UrQMD 2.1"], "range": [[5, 3], [1, 0]]}, "legend": null}
          }
        },
        {
          "data": {"name": "pts"},
          "transform": [{"filter": "datum.p === 'km'"}],
          "mark": {"type": "point", "shape": "circle", "size": 40, "filled": true, "stroke": "black", "strokeWidth": 1.2, "opacity": 1},
          "encoding": {
            "x": {"field": "y", "type": "quantitative",
              "axis": {"orient": "top", "values": [-4,-3.5,-3,-2.5,-2,-1.5,-1,-0.5,0,0.5,1,1.5,2,2.5], "labels": false, "title": null, "tickSize": -6}},
            "y": {"field": "v", "type": "quantitative", "axis": null},
            "fill": {"field": "s", "type": "nominal", "scale": {"domain": ["open", "closed"], "range": ["#ffffff", "#000000"]}, "legend": null}
          }
        },
        {
          "data": {"values": [{}]},
          "mark": {"type": "rect", "fill": "black", "xOffset": 3, "x2Offset": 3, "yOffset": 3, "y2Offset": 3},
          "encoding": {
            "x": {"datum": -3.3, "type": "quantitative", "axis": null}, "x2": {"datum": -2.02},
            "y": {"datum": 24.8, "type": "quantitative", "axis": null}, "y2": {"datum": 19.5}
          }
        },
        {
          "data": {"values": [{}]},
          "mark": {"type": "rect", "fill": "white", "stroke": "black", "strokeWidth": 1.5},
          "encoding": {
            "x": {"datum": -3.3, "type": "quantitative", "axis": null}, "x2": {"datum": -2.02},
            "y": {"datum": 24.8, "type": "quantitative", "axis": null}, "y2": {"datum": 19.5}
          }
        },
        {
          "data": {"values": [{}]},
          "mark": {"type": "text", "text": "K", "fontSize": 17, "align": "center", "baseline": "middle"},
          "encoding": {
            "x": {"datum": -2.74, "type": "quantitative", "axis": null},
            "y": {"datum": 21.2, "type": "quantitative", "axis": null}
          }
        },
        {
          "data": {"values": [{}]},
          "mark": {"type": "text", "text": "-", "fontSize": 11, "align": "center", "baseline": "middle"},
          "encoding": {
            "x": {"datum": -2.45, "type": "quantitative", "axis": null},
            "y": {"datum": 22.8, "type": "quantitative", "axis": null}
          }
        }
      ]
    }
  ]
}
